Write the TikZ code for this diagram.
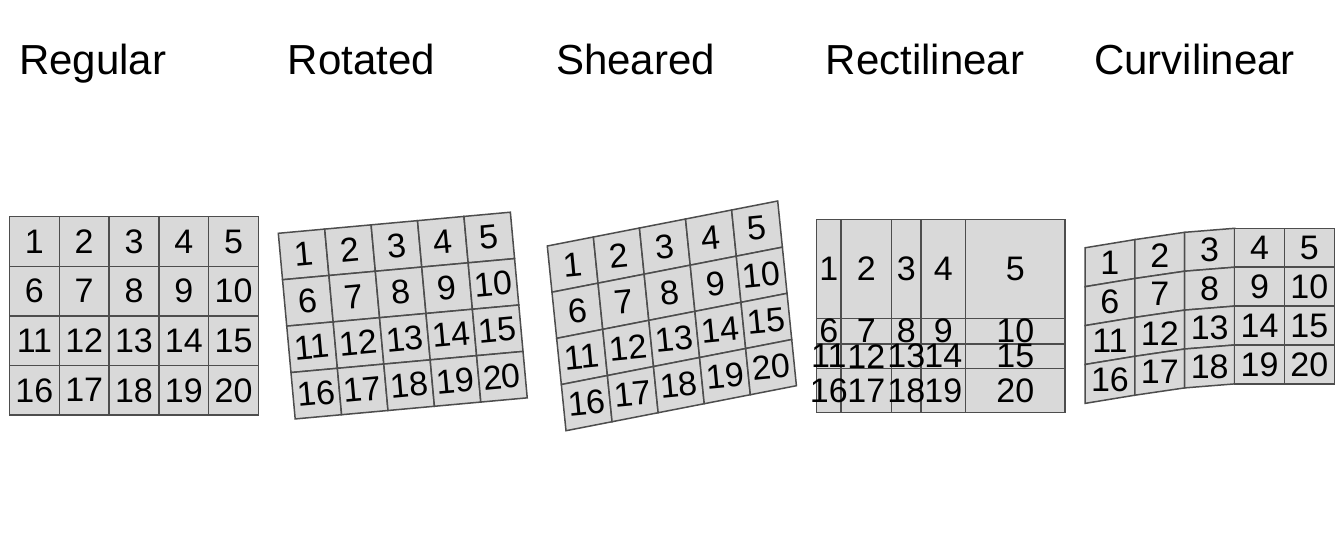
\documentclass[tikz,border=0pt]{standalone}
\usepackage{fontspec}
\setmainfont{Liberation Sans}
\usetikzlibrary{calc}
\definecolor{cellfill}{HTML}{D9D9D9}
\definecolor{cellline}{HTML}{4D4D4D}
\tikzset{
  cell/.style={fill=cellfill, draw=cellline, line width=1.5pt, line join=miter},
  lab/.style={inner sep=0pt, text=black, font=\fontsize{34}{34}\selectfont},
  paneltitle/.style={inner sep=0pt, anchor=base west, text=black, font=\fontsize{42}{42}\selectfont}
}
% draws the 4x5 cells from coordinates #1-c-r and labels them, text rotated by #2
\newcommand\cellgrid[2]{%
  \foreach \r in {0,...,3} \foreach \c in {0,...,4} {
    \pgfmathtruncatemacro\cn{\c+1}\pgfmathtruncatemacro\rn{\r+1}
    \draw[cell] (#1-\c-\r) -- (#1-\cn-\r) -- (#1-\cn-\rn) -- (#1-\c-\rn) -- cycle;
  }
  \foreach \r in {0,...,3} \foreach \c in {0,...,4} {
    \pgfmathtruncatemacro\cn{\c+1}\pgfmathtruncatemacro\rn{\r+1}
    \pgfmathtruncatemacro\n{\r*5+\c+1}
    \node[lab, rotate=#2] (#1\n) at ($(#1-\c-\r)!0.5!(#1-\cn-\rn)$) {\n};
  }
}
% parallelogram lattice: #1 prefix, origin (#2,#3), column step (#4,#5), row step (#6,#7)
\newcommand\lattice[7]{%
  \foreach \c in {0,...,5} \foreach \r in {0,...,4}
    \coordinate (#1-\c-\r) at ({#2+\c*(#4)+\r*(#6)},{#3+\c*(#5)+\r*(#7)});
}
\begin{document}
\begin{tikzpicture}[x=1pt, y=-1pt]
  \useasboundingbox[fill=white] (0,0) rectangle (1344,537);

  % titles
  \node[paneltitle] (tReg) at (19,75) {Regular};
  \node[paneltitle] (tRot) at (287.5,75) {Rotated};
  \node[paneltitle] (tShe) at (556,75) {Sheared};
  \node[paneltitle] (tRec) at (825.5,75) {Rectilinear};
  \node[paneltitle] (tCur) at (1094,75) {Curvilinear};

  % Regular
  \lattice{rg}{9.5}{216.7}{49.8}{0}{0}{49.6}
  \cellgrid{rg}{0}

  % Rotated
  \lattice{ro}{278.3}{233.3}{46.41}{-4.22}{4.22}{46.41}
  \cellgrid{ro}{5.2}

  % Sheared
  \lattice{sh}{547.3}{246}{46.08}{-9.0}{4.675}{46.18}
  \cellgrid{sh}{5.5}

  % Rectilinear
  \foreach \x [count=\c from 0] in {816.7,841,891.7,921,965.7,1065}
    \foreach \y [count=\r from 0] in {219.3,318.3,344,368.3,412.7}
      \coordinate (rl-\c-\r) at (\x,\y);
  \cellgrid{rl}{0}

  % Curvilinear
  \foreach \c/\off in {0/19.5,1/11.3,2/4,3/0,4/0,5/0}
    \foreach \r in {0,...,4}
      \coordinate (cv-\c-\r) at ({1085+\c*49.86},{228.3+\r*38.9+\off});
  \cellgrid{cv}{0}
\end{tikzpicture}
\end{document}
